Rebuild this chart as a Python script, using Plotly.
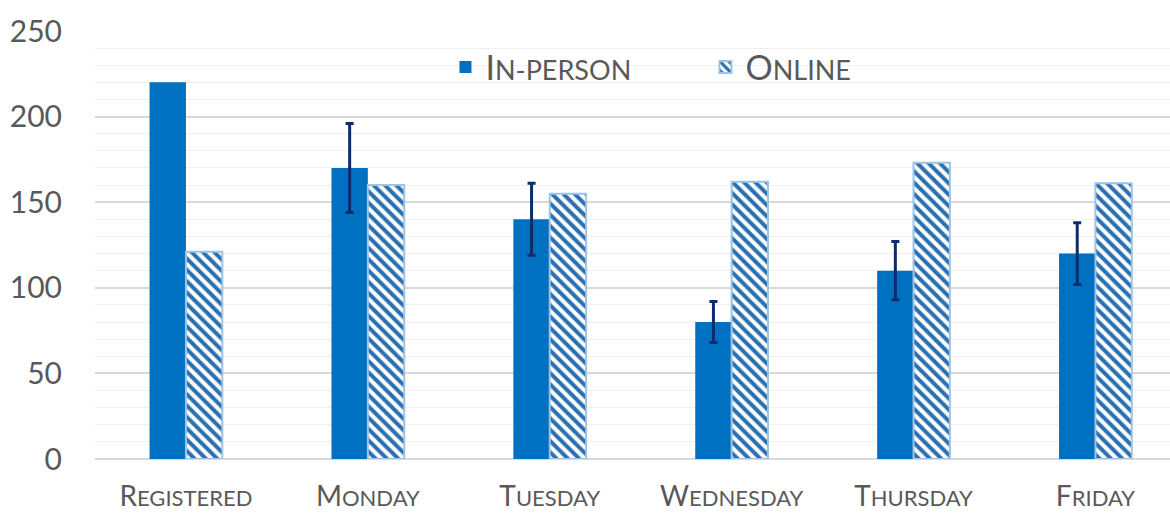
import plotly.graph_objects as go

categories = ["Registered", "Monday", "Tuesday", "Wednesday", "Thursday", "Friday"]
in_person = [220, 170, 140, 80, 110, 120]
in_person_err = [None, 26, 21, 12, 17, 18]
online = [121, 160, 155, 162, 173, 161]
series_names = ["In-person", "Online"]
y_ticks = [0, 50, 100, 150, 200, 250]

BIG = 28
SMALL = 22


def small_caps(s, big=BIG, small=SMALL):
    out = []
    for i, part in enumerate(s.split("-")):
        if i > 0:
            out.append(f"<span style='font-size:{small}px'>-</span>")
        first, rest = part[0], part[1:]
        if i == 0:
            out.append(first.upper())
        else:
            out.append(f"<span style='font-size:{small}px'>{first.upper()}</span>")
        if rest:
            out.append(f"<span style='font-size:{small}px'>{rest.upper()}</span>")
    return "".join(out)


tick_text = [small_caps(c) for c in categories]
x_idx = list(range(len(categories)))
# "NaN" string -> plotly.js skips the error bar for that point
err_arr = ["NaN" if e is None else e for e in in_person_err]

fig = go.Figure()
fig.add_trace(go.Bar(
    x=x_idx, y=in_person, name=small_caps(series_names[0], 34, 27),
    marker=dict(color="#0070C0", line=dict(width=0)),
    error_y=dict(type="data", array=err_arr, visible=True,
                 color="#0B2D6B", thickness=3, width=4),
))
fig.add_trace(go.Bar(
    x=x_idx, y=online, name=small_caps(series_names[1], 34, 27),
    marker=dict(color="white", line=dict(color="#9DC3E6", width=2),
                pattern=dict(shape="\\", fgcolor="#2A70B0", bgcolor="white",
                             size=8, solidity=0.5, fillmode="replace")),
))

fig.update_layout(
    width=1170, height=518,
    margin=dict(l=95, r=0, t=31, b=59),
    paper_bgcolor="white", plot_bgcolor="white",
    barmode="group", bargap=0.6, bargroupgap=0,
    font=dict(family="Lato, Open Sans, sans-serif", color="#595959"),
    legend=dict(orientation="h", x=0.326, y=0.915, xanchor="left", yanchor="middle",
                font=dict(size=34, color="#595959"), bgcolor="rgba(0,0,0,0)",
                itemwidth=30, tracegroupgap=0, entrywidth=215),
    xaxis=dict(range=[-0.5, 5.41], tickmode="array", tickvals=x_idx, ticktext=tick_text,
               tickfont=dict(size=BIG, color="#595959"), showgrid=False, zeroline=False,
               showline=False, ticks="", ticklabelstandoff=18, fixedrange=True,
               automargin=False),
    yaxis=dict(range=[0, 250], tickmode="array", tickvals=y_ticks,
               tickfont=dict(size=30, color="#595959"),
               showgrid=True, gridcolor="#D9D9D9", gridwidth=1.5,
               minor=dict(dtick=10, showgrid=True, gridcolor="#EFEFEF", gridwidth=1),
               zeroline=True, zerolinecolor="#D9D9D9", zerolinewidth=1.5,
               ticks="", ticklabelstandoff=32, showline=False, automargin=False),
)

fig.write_html("out.html", config={"displayModeBar": False},
               post_script="document.body.style.margin='0';")
